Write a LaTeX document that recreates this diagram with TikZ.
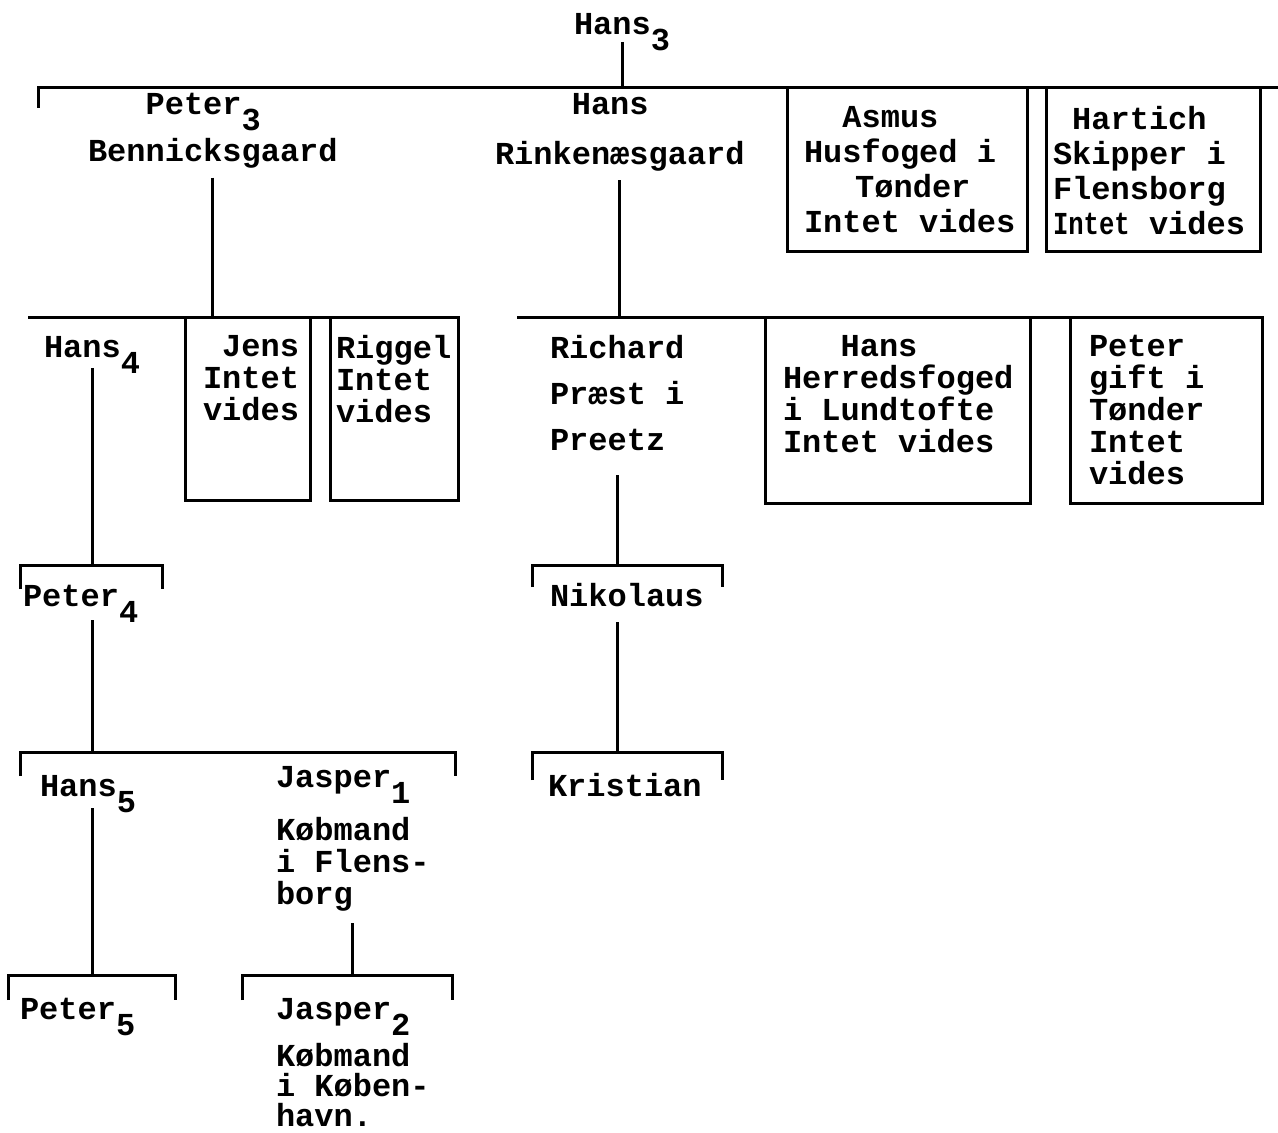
\documentclass[tikz,border=0pt]{standalone}
\usepackage{fontspec}
\usepackage{tikz}
\usetikzlibrary{positioning}
\newfontfamily\typewriter{Liberation Mono}
\newcommand{\gen}[1]{\raisebox{-8pt}[0pt][0pt]{#1}}

\begin{document}
\begin{tikzpicture}[
x=0.5pt, y=-0.5pt,
every node/.style={font={\typewriter\bfseries\fontsize{16}{16}\selectfont}, inner sep=0pt, outer sep=0pt},
person/.style={align=left, anchor=north west, execute at begin node=\strut},
tallperson/.style={person, font={\typewriter\bfseries\fontsize{16}{17.5}\selectfont}},
single/.style={anchor=base west},
famBox/.style={draw, line width=1.5pt, anchor=north west},
bar/.style={line width=1.5pt},
link/.style={line width=1.5pt}
]
\useasboundingbox (0,0) rectangle (1278,1133);

% Hans 3 and his sons
\node[single] (H3) at (574,35) {Hans\gen{3}};
\coordinate (topL) at (38,88);
\coordinate (topR) at (1278,88);
\draw[bar] (topL) ++(0,20) -- (topL) -- (topR);
\draw[link] (H3.base) ++(0,7) -- (H3.base |- topL);

\node[person] (P3) at (88,93.6) {\hspace*{1.8em}Peter\gen{3}\\[7.5pt]Bennicksgaard};
\node[person] (HR) at (495,93.6) {\hspace*{2.4em}Hans\\[9pt]Rinkenæsgaard};

\node[famBox, minimum width=120pt, minimum height=82pt] (asmusBox) at (787,88) {};
\node[tallperson, below right=9pt and 8.5pt of asmusBox.north west] (asmus) {\hspace*{1.2em}Asmus\\Husfoged i\\\hspace*{1.6em}Tønder\\Intet vides};
\node[famBox, minimum width=107pt, minimum height=82pt] (hartichBox) at (1046,88) {};
\node[tallperson, below right=9pt and 3.5pt of hartichBox.north west] (hartich) {\hspace*{0.6em}Hartich\\Skipper i\\Flensborg\\\scalebox{0.8}[1]{Intet} vides};

% children of Peter 3
\coordinate (l2L) at (28,318);
\coordinate (l2R) at (458,318);
\draw[bar] (l2L) -- (l2R);
\draw[link] (P3.south) ++(0,6) -- (P3.south |- l2L);

\node[single] (H4) at (44,358) {Hans\gen{4}};
\node[famBox, minimum width=62.5pt, minimum height=91pt] (jensBox) at (185,318) {};
\node[person, below right=8.8pt and 9pt of jensBox.north west] (jens) {\hspace*{0.6em}Jens\\Intet\\vides};
\node[famBox, minimum width=64pt, minimum height=91pt] (riggelBox) at (330,318) {};
\node[person, below right=8.8pt and 3pt of riggelBox.north west] (riggel) {Riggel\\Intet\\vides};

% children of Hans Rinkenaesgaard
\coordinate (r2L) at (517,318);
\coordinate (r2R) at (1262,318);
\draw[bar] (r2L) -- (r2R);
\draw[link] (HR.south) ++(0,6) -- (HR.south |- r2L);

\node[person] (RI) at (550,335.6) {Richard\\[7pt]Præst i\\[7pt]Preetz};
\node[famBox, minimum width=132.5pt, minimum height=92.5pt] (hansBox) at (765,318) {};
\node[person, below right=8.8pt and 9pt of hansBox.north west] (hans) {\hspace*{1.8em}Hans\\Herredsfoged\\i Lundtofte\\Intet vides};
\node[famBox, minimum width=96pt, minimum height=92.5pt] (peterBox) at (1070,318) {};
\node[person, below right=8.8pt and 9.5pt of peterBox.north west] (peter) {Peter\\gift i\\Tønder\\Intet\\vides};

% Hans 4 line
\coordinate (p4L) at (20,565);
\coordinate (p4R) at (162,565);
\draw[bar] (p4L) ++(0,24) -- (p4L) -- (p4R) -- ++(0,24);
\draw[link] (H4.base) ++(0,10) -- (H4.base |- p4L);
\node[single] (P4) at (23,606) {Peter\gen{4}};

\coordinate (l4L) at (20,752);
\coordinate (l4R) at (455,752);
\draw[bar] (l4L) ++(0,24) -- (l4L) -- (l4R) -- ++(0,24);
\draw[link] (P4.base -| H4.base) ++(0,14) -- (H4.base |- l4L);
\node[single] (H5) at (40,796) {Hans\gen{5}};
\node[person] (J1) at (276,766.6) {Jasper\gen{1}\\[10.5pt]Købmand\\i Flens-\\borg};

\coordinate (p5L) at (8,975);
\coordinate (p5R) at (175,975);
\draw[bar] (p5L) ++(0,25) -- (p5L) -- (p5R) -- ++(0,25);
\draw[link] (H5.base -| H4.base) ++(0,12) -- (H4.base |- p5L);
\node[single] (P5) at (20,1019) {Peter\gen{5}};

\coordinate (j2L) at (242,975);
\coordinate (j2R) at (452,975);
\draw[bar] (j2L) ++(0,25) -- (j2L) -- (j2R) -- ++(0,25);
\draw[link] (J1.south) ++(0,9) -- (J1.south |- j2L);
\node[person] (J2) at (276,998.6) {Jasper\gen{2}\\[7.5pt]Købmand\\[-1pt]i Køben-\\[-1pt]havn.};

% Richard line
\coordinate (nkL) at (532,565);
\coordinate (nkR) at (722,565);
\draw[bar] (nkL) ++(0,22) -- (nkL) -- (nkR) -- ++(0,22);
\draw[link] (RI.south) ++(0,15) -- (RI.south |- nkL);
\node[single] (NK) at (550,606) {Nikolaus};

\coordinate (krL) at (532,752);
\coordinate (krR) at (722,752);
\draw[bar] (krL) ++(0,28) -- (krL) -- (krR) -- ++(0,28);
\draw[link] (NK.base -| RI.south) ++(0,16) -- (RI.south |- krL);
\node[single] (KR) at (548,796) {Kristian};
\end{tikzpicture}
\end{document}
